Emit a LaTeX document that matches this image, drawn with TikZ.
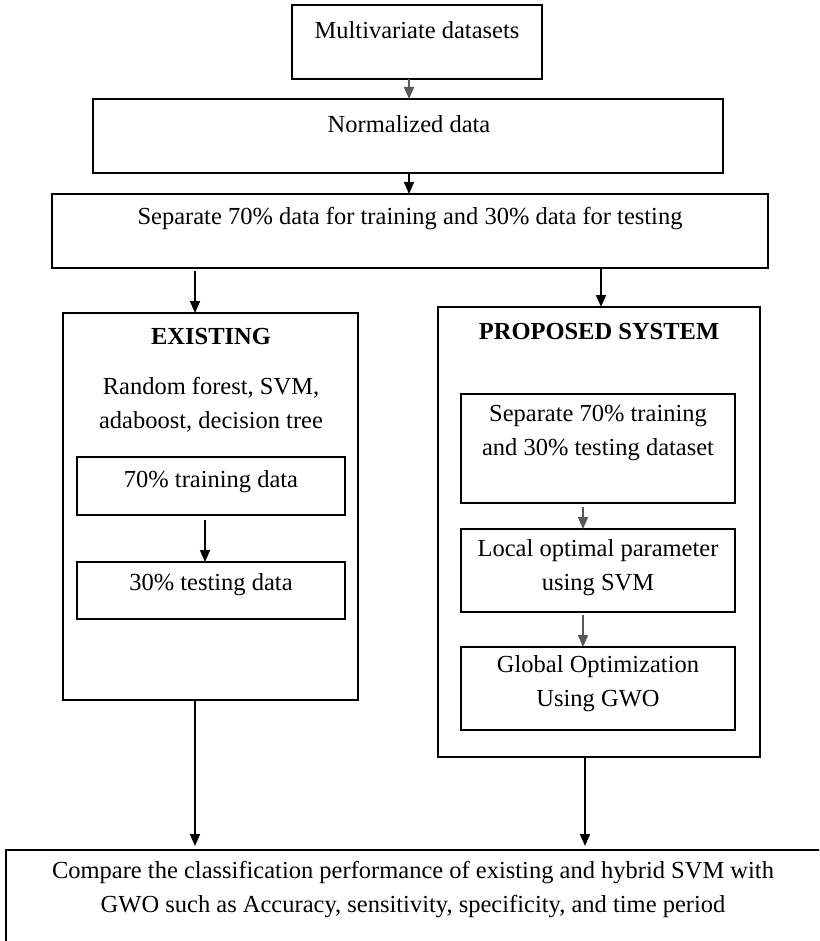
\documentclass[tikz,border=0pt]{standalone}
\usepackage{fontspec}
\setmainfont{Liberation Serif}
\usetikzlibrary{arrows.meta,calc}

% a framed box given by its corners: name, x1, y1, x2, y2
\newcommand\flowbox[5]{%
  \node[box, minimum width={(#4)-(#2)}, minimum height={(#5)-(#3)}]
    (#1) at ({((#2)+(#4))/2},{((#3)+(#5))/2}) {};}

\begin{document}
\begin{tikzpicture}[x=1pt,y=-1pt,
  box/.style={draw=black, line width=1.8pt, rectangle, inner sep=0pt, outer sep=0pt},
  txt/.style={font=\fontsize{24.5}{34}\selectfont, align=center, inner sep=0pt},
  ttl/.style={font=\fontsize{24.5}{34}\selectfont\bfseries, inner sep=0pt},
  arr/.style={draw=black, line width=1.6pt, -{Triangle[length=12pt,width=10pt]}},
  garr/.style={arr, draw=black!65, fill=black!65}]

\useasboundingbox (0,0) rectangle (819,941);
\clip (0,0) rectangle (819,941);

% top chain
\flowbox{mv}{292}{5}{542}{79}
\node[txt] (mvT) at (417,30) {Multivariate datasets};
\flowbox{norm}{93}{99}{723}{173}
\node[txt] (normT) at (409,124) {Normalized data};
\flowbox{sep}{52}{194}{768}{268}
\node[txt] (sepT) at (410,219) {Separate 70\% data for training and 30\% data for testing};

% existing methods
\flowbox{ex}{63}{313}{358}{700}
\node[ttl] (exT) at (211,337) {EXISTING};
\node[txt] (exD) at (211,405) {Random forest, SVM,\\adaboost, decision tree};
\flowbox{tr}{77}{457}{345}{515}
\node[txt] (trT) at (211,482) {70\% training data};
\flowbox{te}{77}{562}{345}{619}
\node[txt] (teT) at (211,585) {30\% testing data};

% proposed system
\flowbox{pr}{438}{307}{760}{757}
\node[ttl] (prT) at (599,332) {PROPOSED SYSTEM};
\flowbox{ps}{461}{394}{735}{503}
\node[txt] (psT) at (598,433) {Separate 70\% training\\and 30\% testing dataset};
\flowbox{loc}{461}{529}{735}{612}
\node[txt] (locT) at (598,568) {Local optimal parameter\\using SVM};
\flowbox{glob}{461}{647}{735}{730}
\node[txt] (globT) at (598,684) {Global Optimization\\Using GWO};

% comparison
\flowbox{cmp}{6}{850}{836}{980}
\node[txt] (cmpT) at (413,890) {Compare the classification performance of existing and hybrid SVM with\\GWO such as Accuracy, sensitivity, specificity, and time period};

% connector columns
\coordinate (cA) at (409,0);
\coordinate (cB) at (195,0);
\coordinate (cC) at (601,0);
\coordinate (cD) at (205,0);
\coordinate (cE) at (583,0);
\coordinate (cF) at (585,0);

\draw[garr] (mv.south -| cA) -- (norm.north -| cA);
\draw[arr] (norm.south -| cA) -- (sep.north -| cA);
\draw[arr] ($(sep.south -| cB)+(0,3)$) -- (ex.north -| cB);
\draw[arr] (sep.south -| cC) -- (pr.north -| cC);
\draw[arr] ($(tr.south -| cD)+(0,5)$) -- (te.north -| cD);
\draw[garr] ($(ps.south -| cE)+(0,4)$) -- (loc.north -| cE);
\draw[garr] ($(loc.south -| cE)+(0,3)$) -- (glob.north -| cE);
\draw[arr] (ex.south -| cB) -- ($(cmp.north -| cB)+(0,-4)$);
\draw[arr] (pr.south -| cF) -- ($(cmp.north -| cF)+(0,-4)$);
\end{tikzpicture}
\end{document}
